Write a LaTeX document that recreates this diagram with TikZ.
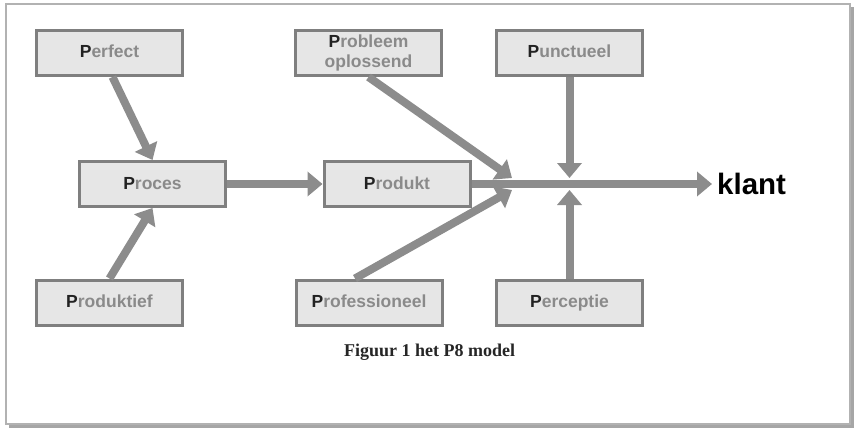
\documentclass[tikz,border=0pt]{standalone}
\usepackage{fontspec}
\setmainfont{Liberation Sans}
\newfontfamily\capfont{Liberation Serif}
\usetikzlibrary{arrows.meta}
\definecolor{boxfill}{HTML}{E6E6E6}
\definecolor{boxline}{HTML}{7F7F7F}
\definecolor{arrowgray}{HTML}{8C8C8C}
\definecolor{ptext}{HTML}{8A8A8A}
\definecolor{pdark}{HTML}{222222}
\newcommand{\Pword}[1]{\textcolor{pdark}{P}\textcolor{ptext}{#1}}
\tikzset{
  pbox/.style={draw=boxline, line width=3pt, fill=boxfill, minimum width=146pt, minimum height=45pt,
    inner sep=0pt, align=center, font=\fontsize{17.5}{20}\selectfont\bfseries},
  pone/.style={pbox, text height=13pt, text depth=3pt},
  parrow/.style={draw=arrowgray, line width=8pt, -{Triangle[width=24pt,length=15pt]}}
}
\begin{document}
\begin{tikzpicture}[x=1pt,y=-1pt]
\useasboundingbox (0,0) rectangle (855,428);
% frame with shadow
\fill[gray!70] (9,7) rectangle (854,428);
\fill[white, draw=gray!60, line width=1.5pt] (6,4) rectangle (850,424);
% boxes
\node[pone] (perfect) at (109.5,53) {\Pword{erfect}};
\node[pone] (proces) at (152.5,184) {\Pword{roces}};
\node[pone] (prodtief) at (109.5,302.5) {\Pword{roduktief}};
\node[pbox] (probleem) at (368.5,53) {\Pword{robleem}\\[0.5pt]\textcolor{ptext}{oplossend}};
\node[pone] (produkt) at (397,184) {\Pword{rodukt}};
\node[pone] (prof) at (369,302.5) {\Pword{rofessioneel}};
\node[pone] (punct) at (569.5,53) {\Pword{unctueel}};
\node[pone] (percep) at (569.5,302.5) {\Pword{erceptie}};
\node[anchor=west, inner sep=5pt, font=\fontsize{29.5}{31}\selectfont\bfseries] (klant) at (712,184) {klant};
\node[font=\capfont\fontsize{18}{20}\selectfont\bfseries, text=black!85] (cap) at (429.5,352) {Figuur 1 het P8 model};
% hub coordinates
\coordinate (hubA) at (512,178);
\coordinate (hubB) at (512,190);
\coordinate (hubC) at (569.5,178);
\coordinate (hubD) at (569.5,190);
% arrows
\draw[parrow] ([xshift=3pt]perfect.south) -- (proces.north);
\draw[parrow] (prodtief.north) -- (proces.south);
\draw[parrow] (proces.east) -- (produkt.west);
\draw[parrow] (produkt.east) -- (klant.west);
\draw[parrow] (probleem.south) -- (hubA);
\draw[parrow] ([xshift=-14pt]prof.north) -- (hubB);
\draw[parrow] (punct.south) -- (hubC);
\draw[parrow] (percep.north) -- (hubD);
\end{tikzpicture}
\end{document}
